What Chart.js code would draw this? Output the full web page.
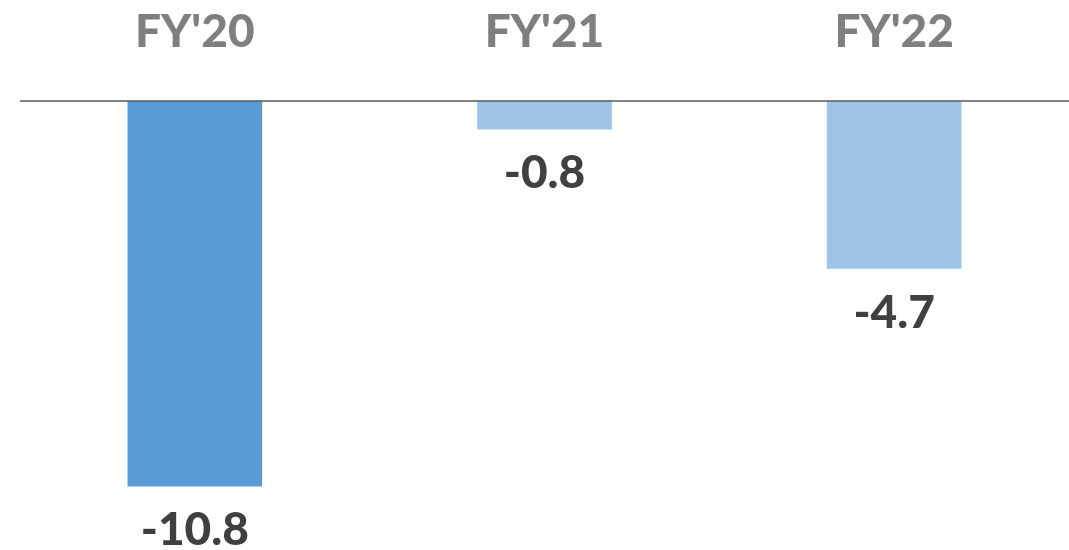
<!DOCTYPE html>
<html>
<head>
<meta charset="utf-8">
<script src="https://cdn.jsdelivr.net/npm/chart.js@4.4.0/dist/chart.umd.min.js"></script>
<style>
  html, body { margin: 0; padding: 0; background: #fff; }
  #wrap { width: 1069px; height: 550px; }
</style>
</head>
<body>
<div id="wrap"><canvas id="chart"></canvas></div>
<script>
const categories = ["FY'20", "FY'21", "FY'22"];
const values = [-10.8, -0.8, -4.7];
const barColors = ["#5b9bd5", "#9dc3e6", "#9dc3e6"];

const FONT = "Lato, 'Open Sans', sans-serif";

// category names above the zero line, value labels below each bar
const labelsPlugin = {
  id: "labels",
  afterDatasetsDraw(chart) {
    const { ctx, chartArea } = chart;
    const y0 = chart.scales.y.getPixelForValue(0);
    ctx.save();
    ctx.strokeStyle = "#595959";
    ctx.lineWidth = 1.3;
    ctx.beginPath();
    ctx.moveTo(20, y0);
    ctx.lineTo(chart.width, y0);
    ctx.stroke();

    ctx.textAlign = "center";
    ctx.textBaseline = "middle";
    const meta = chart.getDatasetMeta(0);
    meta.data.forEach((bar, i) => {
      ctx.font = "900 46px " + FONT;
      ctx.fillStyle = "#7f7f7f";
      ctx.fillText(categories[i], bar.x, 32);
      ctx.fillStyle = "#404040";
      ctx.fillText(values[i].toFixed(1), bar.x, bar.y + 44);
    });
    ctx.restore();
  }
};

new Chart(document.getElementById("chart"), {
  type: "bar",
  data: {
    labels: categories,
    datasets: [{
      data: values,
      backgroundColor: barColors,
      borderWidth: 0,
      barPercentage: 0.385,
      categoryPercentage: 1
    }]
  },
  options: {
    responsive: true,
    maintainAspectRatio: false,
    animation: false,
    layout: { padding: { top: 101, left: 20, right: -3, bottom: 0 } },
    plugins: { legend: { display: false }, tooltip: { enabled: false } },
    scales: {
      x: { display: false },
      y: { display: false, min: -12.58, max: 0 }
    }
  },
  plugins: [labelsPlugin]
});
</script>
</body>
</html>
